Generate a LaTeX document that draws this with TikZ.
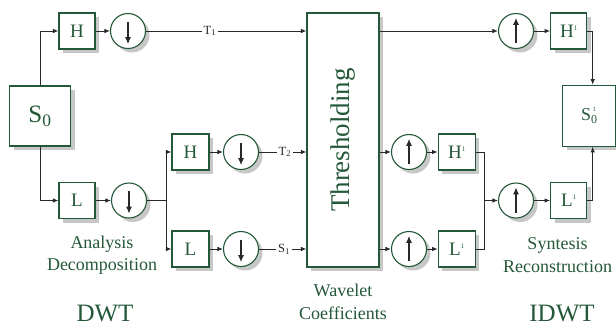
\documentclass[tikz,border=0pt]{standalone}
\usepackage{fontspec}
\setmainfont{Liberation Serif}
\usetikzlibrary{arrows.meta,shadows}
\definecolor{dg}{RGB}{36,88,56}
\definecolor{ln}{RGB}{40,40,40}
\newcommand\supone{\raisebox{7pt}{\fontsize{7}{7}\selectfont 1}}
\begin{document}
\begin{tikzpicture}[x=1pt,y=-1pt,
  shad/.style={drop shadow={shadow xshift=4pt, shadow yshift=-4pt, fill=black!22, opacity=1}},
  box/.style={draw=dg, line width=1.1pt, fill=white, minimum width=36pt, minimum height=36pt,
    inner sep=0pt, text=dg, font=\fontsize{19}{19}\selectfont, shad},
  circ/.style={circle, draw=dg, line width=1.1pt, fill=white, minimum size=35pt, inner sep=0pt, shad},
  arr/.style={draw=ln, line width=0.9pt, -{Latex[length=5.5pt,width=4.5pt]}},
  con/.style={draw=ln, line width=0.9pt},
  carr/.style={draw=ln, line width=1.1pt, -{Latex[length=7pt,width=6pt]}},
  lbl/.style={font=\fontsize{12.5}{12.5}\selectfont, text=ln, inner sep=1.5pt},
  capt/.style={text=dg, align=center, font=\fontsize{18}{22.5}\selectfont},
  big/.style={text=dg, font=\fontsize{25}{25}\selectfont},
]
\useasboundingbox (0,0) rectangle (616,325);

% left (DWT)
\node[box, minimum width=61pt, minimum height=60pt, font=\fontsize{25}{25}\selectfont] (S0) at (40,116) {S\textsubscript{0}};
\node[box] (H1) at (77,31) {H};
\node[circ] (D1) at (128,31) {};
\node[box] (L1) at (77,200.5) {L};
\node[circ] (D2) at (129,200.5) {};
\coordinate (B) at (166,200.5);
\node[box, minimum width=37pt] (H2) at (190.5,152) {H};
\node[circ] (D3) at (241,152) {};
\node[box, minimum width=37pt] (L2) at (190.5,249) {L};
\node[circ] (D4) at (241,249) {};

% thresholding
\node[box, minimum width=72pt, minimum height=254pt] (Thr) at (343,140) {};
\node[rotate=90, text=dg, font=\fontsize{27}{27}\selectfont] (ThrT) at (Thr.center) {Thresholding};

% labels
\node[lbl] (T1) at (210,31) {T\textsubscript{1}};
\node[lbl] (T2) at (285,152) {T\textsubscript{2}};
\node[lbl] (S1) at (284,249) {S\textsubscript{1}};

% right (IDWT)
\node[circ] (U1) at (516,31) {};
\node[box] (Hp1) at (568.7,31) {H\supone};
\node[circ] (U2) at (409,152) {};
\node[box, minimum width=37pt] (Hp2) at (456.7,152) {H\supone};
\node[circ] (U3) at (409,249) {};
\node[box, minimum width=37pt] (Lp2) at (456.7,249) {L\supone};
\coordinate (M) at (484.3,200.5);
\node[circ] (U4) at (516,200.5) {};
\node[box] (Lp1) at (568.7,200.5) {L\supone};
\node[box, minimum width=53pt, minimum height=61pt, font=\fontsize{18}{18}\selectfont] (S0p) at (589.2,115.7)
  {S\makebox[0pt][l]{\hspace{1.5pt}\raisebox{8.5pt}{\fontsize{6.5}{6.5}\selectfont 1}}\raisebox{-3.5pt}{\fontsize{12}{12}\selectfont 0}};
\coordinate (J1) at (592.7,31);
\coordinate (J2) at (592.7,200.5);

% arrows inside circles
\foreach \c in {D1,D2,D3,D4}{
  \draw[carr] ([yshift=-9pt]\c.north) -- ([yshift=5pt]\c.south);
}
\foreach \c in {U1,U2,U3,U4}{
  \draw[carr] ([yshift=6pt]\c.south) -- ([yshift=-5pt]\c.north);
}

% connectors left
\draw[arr] (S0.north) |- (H1.west);
\draw[arr] (H1) -- (D1);
\draw[con] (D1) -- (T1);
\draw[arr] (T1) -- (T1 -| Thr.west);
\draw[arr] (S0.south) |- (L1.west);
\draw[arr] (L1) -- (D2);
\draw[con] (D2) -- (B);
\draw[arr] (B) |- (H2.west);
\draw[arr] (B) |- (L2.west);
\draw[arr] (H2) -- (D3);
\draw[con] (D3) -- (T2);
\draw[arr] (T2) -- (T2 -| Thr.west);
\draw[arr] (L2) -- (D4);
\draw[con] (D4) -- (S1);
\draw[arr] (S1) -- (S1 -| Thr.west);

% connectors right
\draw[arr] (Thr.east |- U1) -- (U1);
\draw[arr] (U1) -- (Hp1);
\draw[arr] (Hp1.east) -- (J1) -- (J1 |- S0p.north);
\draw[arr] (Thr.east |- U2) -- (U2);
\draw[arr] (U2) -- (Hp2);
\draw[arr] (Thr.east |- U3) -- (U3);
\draw[arr] (U3) -- (Lp2);
\draw[con] (Hp2.east) -| (M);
\draw[con] (Lp2.east) -| (M);
\draw[arr] (M) -- (U4);
\draw[arr] (U4) -- (Lp1);
\draw[arr] (Lp1.east) -- (J2) -- (J2 |- S0p.south);

% captions
\node[capt] (an) at (102,255) {Analysis\\Decomposition};
\node[capt] (sy) at (557.5,255) {Syntesis\\Reconstruction};
\node[capt] (wc) at (343,302) {Wavelet\\Coefficients};
\node[big] (dwt) at (105,313) {DWT};
\node[big] (idwt) at (562,313) {IDWT};
\end{tikzpicture}
\end{document}
